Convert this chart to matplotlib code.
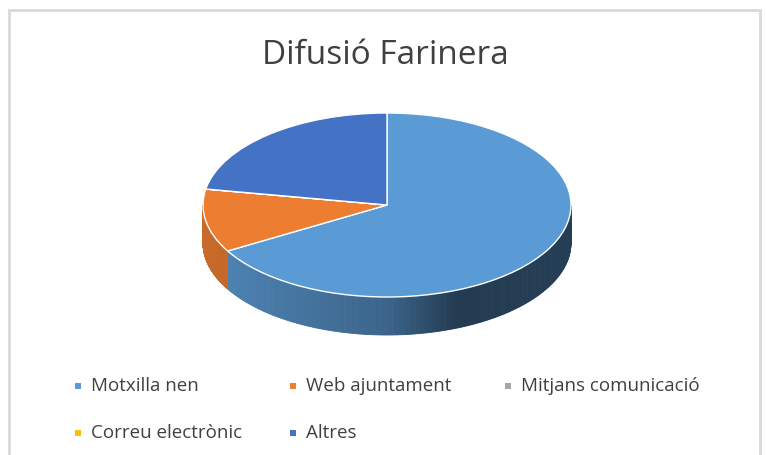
import matplotlib.pyplot as plt
import numpy as np
from matplotlib.colors import to_rgb

# Dades
categories = ["Motxilla nen", "Web ajuntament", "Mitjans comunicació", "Correu electrònic", "Altres"]
values = [6, 1, 0, 0, 2]
colors = ["#5b9bd5", "#ed7d31", "#a5a5a5", "#ffc000", "#4472c4"]
title = "Difusió Farinera"

W, H = 766, 455
cx, cy = 387, 205      # centre de l'el·lipse (px)
rx, ry = 184, 92       # semieixos (px)
depth = 38 / ry        # gruix del pastís en unitats de ry

fig = plt.figure(figsize=(W / 100, H / 100), dpi=100)

# eix de fons en píxels: vora, títol i llegenda
bg = fig.add_axes([0, 0, 1, 1])
bg.set_xlim(0, W)
bg.set_ylim(H, 0)
bg.axis("off")
bg.plot([9, 9, 760, 760], [H + 5, 10, 10, H + 5], color="#d9d9d9", lw=2, solid_joinstyle="miter")

bg.text(cx - 2, 55, title, ha="center", va="center", fontsize=24,
        color="#404040", family="Open Sans")

leg_x = [78, 293, 508]
leg_y = [386, 433]
for i, (lab, col) in enumerate(zip(categories, colors)):
    x = leg_x[i % 3]
    y = leg_y[i // 3]
    bg.scatter([x], [y], marker="s", s=22, color=col, linewidths=0)
    bg.text(x + 13, y, lab, ha="left", va="center", fontsize=13.5,
            color="#404040", family="Open Sans")

# eix del pastís: 1 unitat = rx px en x i ry px en y
ax = fig.add_axes([0, 0, 1, 1])
ax.set_xlim(-cx / rx, (W - cx) / rx)
ax.set_ylim(-(H - cy) / ry, cy / ry)
ax.axis("off")


def shade(x):
    return np.interp(x, [-1, -0.8, 0, 0.38, 1], [0.85, 0.82, 0.65, 0.38, 0.40])


# parets laterals (només la meitat frontal)
total = sum(values)
start = 90.0
for v, col in zip(values, colors):
    sweep = 360.0 * v / total
    a_hi, a_lo = start, start - sweep
    start = a_lo
    if v == 0:
        continue
    t = np.radians(np.linspace(a_lo, a_hi, 300))
    base = np.array(to_rgb(col))
    for k in range(len(t) - 1):
        t0, t1 = t[k], t[k + 1]
        if np.sin(t0) > 0 and np.sin(t1) > 0:
            continue
        xs = [np.cos(t0), np.cos(t1), np.cos(t1), np.cos(t0)]
        ys = [np.sin(t0), np.sin(t1), np.sin(t1) - depth, np.sin(t0) - depth]
        c = np.clip(base * shade((xs[0] + xs[1]) / 2), 0, 1)
        ax.fill(xs, ys, color=c, lw=0.6, ec=c, zorder=1)

wedges, _ = ax.pie(values, colors=colors, startangle=90, counterclock=False,
                   radius=1, center=(0, 0), frame=True,
                   wedgeprops=dict(edgecolor="white", linewidth=1, zorder=3))
for w in wedges:
    w.set_zorder(3)
ax.set_aspect("auto")
ax.set_xlim(-cx / rx, (W - cx) / rx)
ax.set_ylim(-(H - cy) / ry, cy / ry)
ax.axis("off")

fig.savefig("out.png", dpi=100)
